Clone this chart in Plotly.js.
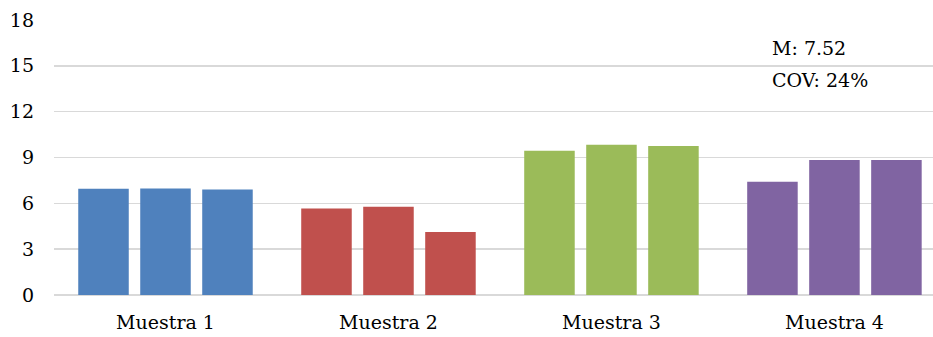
<!DOCTYPE html>
<html>
<head>
<meta charset="utf-8">
<script src="https://cdn.plot.ly/plotly-3.0.1.min.js"></script>
<style>html,body{margin:0;padding:0;background:#fff;}#chart{width:933px;height:337px;}</style>
</head>
<body>
<div id="chart"></div>
<script>
const categories = ["Muestra 1", "Muestra 2", "Muestra 3", "Muestra 4"];
const rep1 = [6.95, 5.66, 9.45, 7.42];
const rep2 = [6.97, 5.77, 9.84, 8.84];
const rep3 = [6.90, 4.12, 9.76, 8.84];
const groupColors = ["#4F81BD", "#C0504D", "#9BBB59", "#8064A2"];
const yTicks = [0, 3, 6, 9, 12, 15, 18];
const statLines = ["M: 7.52", "COV: 24%"];

const traces = [rep1, rep2, rep3].map(vals => ({
  type: "bar",
  x: categories,
  y: vals,
  marker: {color: groupColors, line: {width: 0}},
  hoverinfo: "x+y",
  showlegend: false
}));

const font = {family: "DejaVu Serif", size: 19, color: "#000"};

const layout = {
  width: 933, height: 337,
  margin: {l: 54, r: 0, t: 20, b: 42},
  paper_bgcolor: "#fff", plot_bgcolor: "#fff",
  barmode: "group",
  bargap: 0.166,
  bargroupgap: 0.185,
  font: font,
  xaxis: {
    type: "category",
    range: [-0.5, 3.442],
    showgrid: false, zeroline: false, showline: false,
    ticks: "", ticklabelstandoff: 14,
    tickfont: font, fixedrange: true
  },
  yaxis: {
    range: [0, 18],
    tickvals: yTicks,
    ticktext: yTicks.map(String),
    showgrid: true, gridcolor: "#D9D9D9", gridwidth: 1.5,
    zeroline: true, zerolinecolor: "#D9D9D9", zerolinewidth: 1.5,
    showline: false, ticks: "", ticklabelstandoff: 19,
    tickfont: font, fixedrange: true
  },
  annotations: statLines.map((t, i) => ({
    text: t, xref: "paper", yref: "paper",
    x: 0.8146, y: i === 0 ? 0.898 : 0.782,
    xanchor: "left", yanchor: "middle",
    showarrow: false, font: font
  }))
};

Plotly.newPlot("chart", traces, layout, {displayModeBar: false, staticPlot: true});
</script>
</body>
</html>
